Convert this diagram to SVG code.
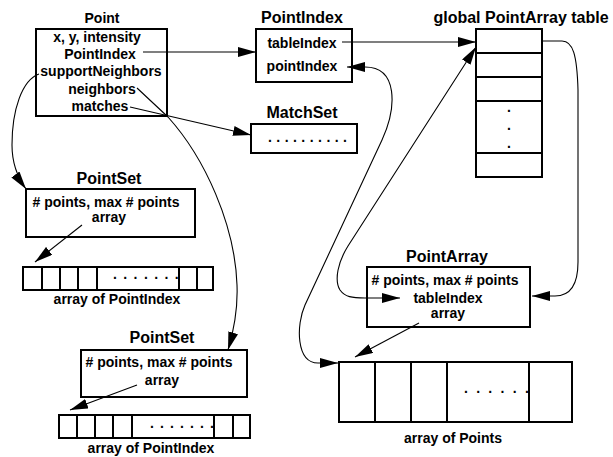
<svg xmlns="http://www.w3.org/2000/svg" width="613" height="457" viewBox="0 0 613 457">
  <style>
    text { font-family: "Liberation Sans", Arial, Helvetica, sans-serif; font-weight: bold; font-size: 14px; fill: #000; text-anchor: middle; }
    .title { font-size: 16px; }
    .dots { text-anchor: start; }
    .box { fill: #fff; stroke: #000; stroke-width: 2; }
    .div { stroke: #000; stroke-width: 2; fill: none; }
    .conn { fill: none; stroke: #000; stroke-width: 1.1; }
    .arr { marker-end: url(#head); }
    .both { marker-start: url(#head); marker-end: url(#head); }
  </style>
  <defs>
    <marker id="head" viewBox="0 0 18 10" refX="18" refY="5" markerWidth="18" markerHeight="10" markerUnits="userSpaceOnUse" orient="auto-start-reverse">
      <path d="M0,0 L18,5 L0,10 Z" fill="#000"/>
    </marker>
  </defs>

  <rect width="613" height="457" fill="#fff"/>

  <!-- Point record -->
  <g id="point">
    <text x="102" y="23">Point</text>
    <rect class="box" x="36" y="29" width="131" height="87"/>
    <text x="97" y="41.5">x, y, intensity</text>
    <text x="100" y="58.7">PointIndex</text>
    <text x="101" y="76">supportNeighbors</text>
    <text x="102" y="93.5">neighbors</text>
    <text x="100" y="110.8">matches</text>
  </g>

  <!-- PointIndex record -->
  <g id="point-index">
    <text class="title" x="302" y="23">PointIndex</text>
    <rect class="box" x="256" y="29" width="96" height="53"/>
    <text x="302" y="47.5">tableIndex</text>
    <text x="302" y="70.5">pointIndex</text>
  </g>

  <!-- MatchSet record -->
  <g id="match-set">
    <text class="title" x="302" y="118">MatchSet</text>
    <rect class="box" x="251" y="124" width="106" height="29"/>
    <text class="dots" x="268" y="141.5" letter-spacing="0.28">. . . . . . . . . .</text>
  </g>

  <!-- global PointArray table -->
  <g id="global-table">
    <text class="title" x="521" y="23">global PointArray table</text>
    <rect class="box" x="476" y="29" width="66" height="148"/>
    <path class="div" d="M476,53 H542 M476,77 H542 M476,101 H542 M476,153 H542"/>
    <text x="509" y="111.5">.</text>
    <text x="509" y="129.5">.</text>
    <text x="509" y="147.5">.</text>
  </g>

  <!-- first PointSet -->
  <g id="point-set-1">
    <text class="title" x="109" y="184">PointSet</text>
    <rect class="box" x="26" y="189" width="169" height="48"/>
    <text x="106" y="207"># points, max # points</text>
    <text x="109" y="222">array</text>
  </g>

  <!-- first array of PointIndex -->
  <g id="index-array-1">
    <rect class="box" x="23" y="267" width="190" height="23"/>
    <path class="div" d="M42,267 V290 M60,267 V290 M78,267 V290 M97,267 V290 M179,267 V290 M197,267 V290"/>
    <text class="dots" x="113" y="278.5" letter-spacing="1.26">. . . . . . .</text>
    <text x="117" y="304">array of PointIndex</text>
  </g>

  <!-- second PointSet -->
  <g id="point-set-2">
    <text class="title" x="162" y="343">PointSet</text>
    <rect class="box" x="81" y="350" width="166" height="47"/>
    <text x="159" y="367"># points, max # points</text>
    <text x="162" y="385">array</text>
  </g>

  <!-- second array of PointIndex -->
  <g id="index-array-2">
    <rect class="box" x="59" y="415" width="191" height="23"/>
    <path class="div" d="M77,415 V438 M95,415 V438 M113,415 V438 M132,415 V438 M214,415 V438 M233,415 V438"/>
    <text class="dots" x="150" y="427.5" letter-spacing="1.1">. . . . . . .</text>
    <text x="151" y="453">array of PointIndex</text>
  </g>

  <!-- PointArray record -->
  <g id="point-array">
    <text class="title" x="447" y="262">PointArray</text>
    <rect class="box" x="367" y="267" width="163" height="60"/>
    <text x="445" y="285"># points, max # points</text>
    <text x="448" y="302.5">tableIndex</text>
    <text x="448" y="318">array</text>
  </g>

  <!-- array of Points -->
  <g id="points-array">
    <rect class="box" x="339" y="362" width="233" height="60"/>
    <path class="div" d="M375,362 V422 M411,362 V422 M447,362 V422 M529,362 V422"/>
    <text class="dots" x="464" y="392.5" letter-spacing="2.2">. . . . . .</text>
    <text x="453" y="443">array of Points</text>
  </g>

  <!-- connectors -->
  <g id="connectors">
    <path class="conn arr" d="M143,52 L256,52"/>
    <path class="conn arr" d="M342,42 L476,42"/>
    <path class="conn arr" d="M39,74 C22,80 12,110 12,145 C12,165 18,178 26,189"/>
    <path class="conn arr" d="M137,88 L168,117 C205,158 235,225 237,285 C238,310 234,330 228,350"/>
    <path class="conn arr" d="M130,107 L251,135"/>
    <path class="conn arr" d="M82,225 L35,262"/>
    <path class="conn arr" d="M137,385 L70,410"/>
    <path class="conn arr" d="M419,323 L355,357"/>
    <path class="conn arr" d="M542,41 L562,41 C573,41 577,55 578,90 L578,262 C578,286 570,296 555,296 L532,296"/>
    <path class="conn both" d="M338,363 L318,363 C296,363 296,325 305,305 L382,140 C397,107 398,67 365,67 L347,67"/>
    <path class="conn both" d="M476,47 L348,246 C338,262 334,280 340,290 C345,297 352,298 365,298 L400,298"/>
  </g>
</svg>
